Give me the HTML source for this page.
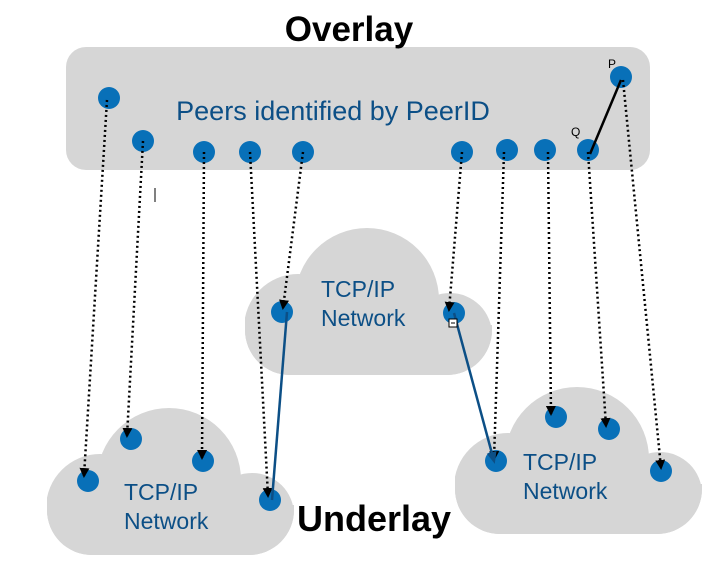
<!DOCTYPE html>
<html><head><meta charset="utf-8"><style>
html,body{margin:0;padding:0;background:#fff;}
svg{display:block;font-family:"Liberation Sans",Helvetica,Arial,sans-serif;}
</style></head><body>
<svg width="720" height="576" viewBox="0 0 720 576" xmlns="http://www.w3.org/2000/svg">
<defs>
<marker id="ah" markerWidth="10" markerHeight="10" refX="8" refY="5" orient="auto" markerUnits="userSpaceOnUse" viewBox="0 0 10 10">
<path d="M0,0 L10,5 L0,10 z" fill="#000"/></marker>
<marker id="ab" markerWidth="12" markerHeight="12" refX="9" refY="6" orient="auto" markerUnits="userSpaceOnUse" viewBox="0 0 12 12">
<path d="M0,1 L12,6 L0,11 z" fill="#0c4f86"/></marker>
<clipPath id="cc"><rect x="245" y="150" width="247" height="225" rx="45"/></clipPath>
<g id="cloud">
<g clip-path="url(#cc)">
<circle cx="298" cy="328" r="54"/>
<circle cx="367" cy="300" r="72"/>
<circle cx="450" cy="335" r="42"/>
<rect x="240" y="325" width="260" height="60"/>
</g>
</g>
</defs>
<rect x="66" y="47" width="584" height="123" rx="20" fill="#d6d6d6"/>
<text x="349" y="41" text-anchor="middle" font-size="35" font-weight="bold" fill="#000">Overlay</text>
<text x="333" y="120" text-anchor="middle" font-size="27" fill="#0c4f86">Peers identified by PeerID</text>
<g fill="#d6d6d6">
<use href="#cloud"/>
<g transform="translate(-198,180)"><use href="#cloud"/></g>
<g transform="translate(210,159)"><use href="#cloud"/></g>
</g>
<g font-size="23" fill="#0c4f86">
<text x="321" y="297">TCP/IP</text><text x="321" y="326">Network</text>
<text x="124" y="500">TCP/IP</text><text x="124" y="529">Network</text>
<text x="523" y="470">TCP/IP</text><text x="523" y="499">Network</text>
</g>
<text x="297" y="531" font-size="36" font-weight="bold" fill="#000">Underlay</text>
<text x="608" y="68" font-size="12" fill="#000">P</text>
<text x="571" y="136" font-size="12" fill="#000">Q</text>
<line x1="155" y1="188" x2="155" y2="202" stroke="#000" stroke-width="1"/>
<g fill="#0870b8">
<circle cx="109" cy="98" r="11"/><circle cx="143" cy="141" r="11"/><circle cx="204" cy="152" r="11"/>
<circle cx="250" cy="152" r="11"/><circle cx="303" cy="152" r="11"/><circle cx="462" cy="152" r="11"/>
<circle cx="507" cy="150" r="11"/><circle cx="545" cy="150" r="11"/><circle cx="588" cy="150" r="11"/>
<circle cx="621" cy="77" r="11"/>
<circle cx="282" cy="312" r="11"/><circle cx="454" cy="313" r="11"/>
<circle cx="88" cy="481" r="11"/><circle cx="131" cy="439" r="11"/><circle cx="203" cy="461" r="11"/><circle cx="270" cy="500" r="11"/>
<circle cx="496" cy="461" r="11"/><circle cx="556" cy="417" r="11"/><circle cx="609" cy="429" r="11"/><circle cx="661" cy="471" r="11"/>
</g>
<line x1="621" y1="80" x2="590" y2="154" stroke="#000" stroke-width="2.5"/>
<g stroke="#000" stroke-width="2.5" stroke-dasharray="2,3" fill="none" marker-end="url(#ah)">
<line x1="107" y1="100" x2="84" y2="476"/>
<line x1="143" y1="141" x2="127" y2="436"/>
<line x1="204" y1="152" x2="202" y2="458"/>
<line x1="250" y1="152" x2="268" y2="496"/>
<line x1="303" y1="152" x2="283" y2="308"/>
<line x1="462" y1="152" x2="449" y2="310"/>
<line x1="504" y1="152" x2="494" y2="459"/>
<line x1="548" y1="152" x2="551" y2="414"/>
<line x1="588" y1="152" x2="606" y2="426"/>
<line x1="623" y1="80" x2="661" y2="468"/>
</g>
<line x1="287" y1="312" x2="272" y2="500" stroke="#0c4f86" stroke-width="2.5"/>
<line x1="454" y1="313" x2="494" y2="461" stroke="#0c4f86" stroke-width="2.5" marker-end="url(#ab)"/>
<rect x="449" y="319" width="8" height="8" fill="#fff" stroke="#000" stroke-width="1"/>
<line x1="451" y1="323" x2="455" y2="323" stroke="#000" stroke-width="1"/>
</svg>
</body></html>
